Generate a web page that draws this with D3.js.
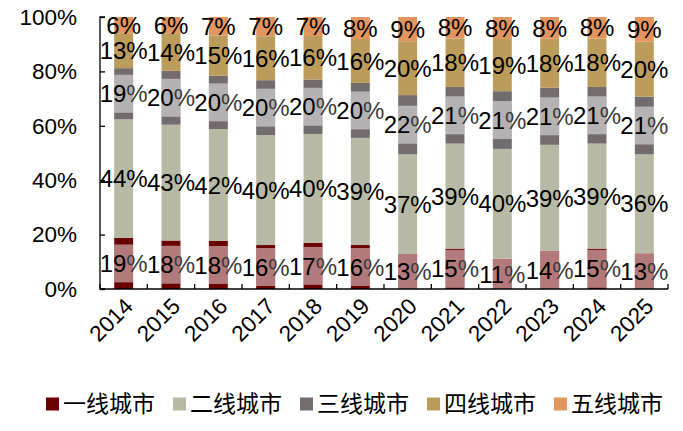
<!DOCTYPE html>
<html>
<head>
<meta charset="utf-8">
<script src="https://cdn.jsdelivr.net/npm/d3@7"></script>
<style>
  body { margin: 0; background: #fff; }
  svg { display: block; font-family: "Liberation Sans", Arial, "Noto Sans CJK SC", sans-serif; }
</style>
</head>
<body>
<svg id="chart" width="683" height="431"></svg>
<script>
// data (labels are shares in %)
const years = ["2014", "2015", "2016", "2017", "2018", "2019", "2020", "2021", "2022", "2023", "2024", "2025"];
const tier1 = [19, 18, 18, 16, 17, 16, 13, 15, 11, 14, 15, 13];
const tier2 = [44, 43, 42, 40, 40, 39, 37, 39, 40, 39, 39, 36];
const tier3 = [19, 20, 20, 20, 20, 20, 22, 21, 21, 21, 21, 21];
const tier4 = [13, 14, 15, 16, 16, 16, 20, 18, 19, 18, 18, 20];
const tier5 = [6, 6, 7, 7, 7, 8, 9, 8, 8, 8, 8, 9];
const seriesNames = ["一线城市", "二线城市", "三线城市", "四线城市", "五线城市"];
const seriesColors = ["#6b0000", "#b7b9a5", "#736c6d", "#bc9c5b", "#e2955f"];
const yTicks = [0, 0.2, 0.4, 0.6, 0.8, 1];

const svg = d3.select("#chart");
const margin = {left: 100, top: 17, right: 15, bottom: 142};
const W = 683, H = 431;

const rows = years.map((y, i) => ({
  year: y, s0: tier1[i], s1: tier2[i], s2: tier3[i], s3: tier4[i], s4: tier5[i]
}));
const keys = ["s0", "s1", "s2", "s3", "s4"];
const stacked = d3.stack().keys(keys).offset(d3.stackOffsetExpand)(rows);

const x = d3.scaleBand().domain(years)
  .range([margin.left, W - margin.right]).paddingInner(0.6).paddingOuter(0.3);
const y = d3.scaleLinear().domain([0, 1]).range([H - margin.bottom, margin.top]);
const bw = x.bandwidth();

// bars
const layers = svg.append("g").selectAll("g")
  .data(stacked).enter().append("g")
  .attr("fill", (d, i) => seriesColors[i]);

layers.selectAll("rect")
  .data(d => d).enter().append("rect")
  .attr("x", d => x(d.data.year))
  .attr("y", d => y(d[1]))
  .attr("width", bw)
  .attr("height", d => y(d[0]) - y(d[1]));

// label boxes (first and third tier have a half-white box behind the label)
const boxed = [0, 2];
boxed.forEach(k => {
  svg.append("g").selectAll("rect")
    .data(stacked[k]).enter().append("rect")
    .attr("x", d => x(d.data.year))
    .attr("width", bw)
    .attr("y", d => {
      const mid = (y(d[0]) + y(d[1])) / 2;
      return Math.max(y(d[1]), mid - 19);
    })
    .attr("height", d => {
      const mid = (y(d[0]) + y(d[1])) / 2;
      const top = Math.max(y(d[1]), mid - 19);
      const bot = Math.min(y(d[0]), mid + 19);
      return bot - top;
    })
    .attr("fill", "#fff")
    .attr("fill-opacity", 0.48);
});

// value labels
stacked.forEach((layer, k) => {
  const isBoxed = boxed.includes(k);
  const t = svg.append("g").selectAll("text")
    .data(layer).enter().append("text")
    .attr("x", d => x(d.data.year) + bw / 2)
    .attr("y", d => (y(d[0]) + y(d[1])) / 2)
    .attr("dy", "0.36em")
    .attr("text-anchor", "middle")
    .attr("font-size", 24)
    .attr("fill", "#000");
  t.append("tspan").text(d => d.data[keys[k]]);
  t.append("tspan").text("%")
    .attr("fill", isBoxed ? "#3a3a3a" : "#000");
});

// y axis
const yAxis = svg.append("g")
  .attr("transform", `translate(${margin.left},0)`)
  .call(d3.axisRight(y).tickValues(yTicks).tickSize(5).tickFormat(""));
yAxis.select(".domain").attr("stroke", "#000").attr("stroke-width", 1.3)
  .attr("d", `M5,${y(1)}H0V${y(0)}H5`);
yAxis.selectAll(".tick line").attr("stroke", "#000").attr("stroke-width", 1.3);

svg.append("g").selectAll("text")
  .data(yTicks).enter().append("text")
  .attr("x", 77)
  .attr("y", d => y(d))
  .attr("dy", "0.35em")
  .attr("text-anchor", "end")
  .attr("font-size", 22.5)
  .text(d3.format(".0%"));

// x axis: ticks sit between the bars and point up
const step = x.step();
const bounds = d3.range(years.length + 1).map(i => x(years[0]) - x.paddingInner() * step / 2 + i * step);
const xAxis = svg.append("g");
xAxis.append("line")
  .attr("x1", margin.left).attr("x2", W - margin.right)
  .attr("y1", y(0)).attr("y2", y(0))
  .attr("stroke", "#000").attr("stroke-width", 1.3);
xAxis.selectAll(".xt").data(bounds).enter().append("line")
  .attr("class", "xt")
  .attr("x1", d => d).attr("x2", d => d)
  .attr("y1", y(0)).attr("y2", y(0) - 5)
  .attr("stroke", "#000").attr("stroke-width", 1.3);

svg.append("g").selectAll("text")
  .data(years).enter().append("text")
  .attr("transform", d => `translate(${x(d) + bw / 2 + 5},${y(0) + 13}) rotate(-45)`)
  .attr("text-anchor", "end")
  .attr("dy", "0.35em")
  .attr("font-size", 22.5)
  .text(d => d);

// legend
const legend = svg.append("g").selectAll("g")
  .data(seriesNames).enter().append("g")
  .attr("transform", (d, i) => `translate(${46 + i * 127},404)`);
legend.append("rect")
  .attr("x", 0).attr("y", -6.5).attr("width", 13).attr("height", 13)
  .attr("fill", (d, i) => seriesColors[i]);
legend.append("text")
  .attr("x", 17).attr("dy", "0.36em")
  .attr("font-size", 23)
  .attr("font-family", "'Noto Sans CJK SC', sans-serif")
  .text(d => d);
</script>
</body>
</html>
